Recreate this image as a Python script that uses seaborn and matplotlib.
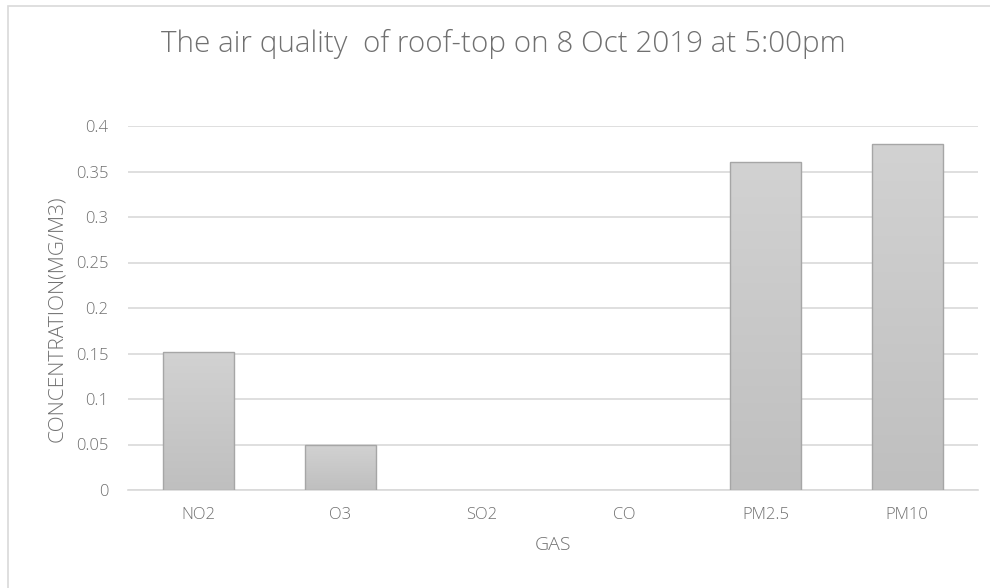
import seaborn as sns
import matplotlib
matplotlib.use('Agg')
import matplotlib.pyplot as plt
import numpy as np
import pandas as pd
from matplotlib.patches import Rectangle

gases = ['NO2', 'O3', 'SO2', 'CO', 'PM2.5', 'PM10']
concentration = [0.152, 0.05, 0, 0, 0.36, 0.38]
y_ticks = [0, 0.05, 0.1, 0.15, 0.2, 0.25, 0.3, 0.35, 0.4]
y_tick_labels = ['0', '0.05', '0.1', '0.15', '0.2', '0.25', '0.3', '0.35', '0.4']

df = pd.DataFrame({'gas': gases, 'concentration': concentration})

sns.set_theme(style='white')
plt.rcParams['font.family'] = ['Open Sans', 'DejaVu Sans']
plt.rcParams['font.weight'] = 'light'
text_color = '#707070'

W, H = 990, 588
fig = plt.figure(figsize=(W / 100, H / 100), dpi=100)
# chart area border (right and bottom edges fall outside the image)
fig.patches.append(Rectangle((8 / W, -0.02), 1.05, 1.02 - 6 / H, transform=fig.transFigure,
                             fill=False, edgecolor='#d9d9d9', linewidth=1.2))
ax = fig.add_axes([128 / W, 1 - 490 / H, 850 / W, 364 / H])

sns.barplot(data=df, x='gas', y='concentration', color='#c8c8c8', width=0.5,
            edgecolor='#a6a6a6', linewidth=1, errorbar=None, ax=ax, zorder=3)

# vertical gradient on the bars
grad = np.linspace(0, 1, 256).reshape(-1, 1)
cmap = matplotlib.colors.LinearSegmentedColormap.from_list('g', ['#bfbfbf', '#d2d2d2'])
for bar in ax.patches:
    h = bar.get_height()
    if h <= 0:
        bar.set_visible(False)
        continue
    x0 = bar.get_x()
    w = bar.get_width()
    im = ax.imshow(grad, cmap=cmap, aspect='auto', origin='lower',
                   extent=(x0, x0 + w, 0, h), zorder=3.5)
    im.set_clip_path(bar)
    bar.set_facecolor('none')
    bar.set_zorder(4)

ax.set_xlim(-0.5, len(gases) - 0.5)
ax.set_ylim(0, 0.4)
ax.set_yticks(y_ticks)
ax.set_yticklabels(y_tick_labels)
ax.yaxis.grid(True, color='#d9d9d9', linewidth=1.2)
ax.set_axisbelow(True)
for s in ['top', 'right', 'left']:
    ax.spines[s].set_visible(False)
ax.spines['bottom'].set_color('#d9d9d9')
ax.spines['bottom'].set_linewidth(1.2)
ax.tick_params(axis='both', length=0, labelsize=12, colors=text_color)
ax.tick_params(axis='x', pad=12)
ax.tick_params(axis='y', pad=14)

ax.set_xlabel('GAS', fontsize=14, color=text_color, fontweight='light')
ax.xaxis.set_label_coords(0.5, -0.126)
ax.set_ylabel('CONCENTRATION(MG/M3)', fontsize=15, color=text_color, fontweight='light')
ax.yaxis.set_label_coords(-0.0835, 0.47)
ax.yaxis.label.set_verticalalignment('center')

fig.text(0.508, 1 - 52 / H, 'The air quality  of roof-top on 8 Oct 2019 at 5:00pm',
         ha='center', va='baseline', fontsize=21.3, color=text_color,
         fontweight='light', fontstretch='normal')

fig.savefig('out.png', dpi=100)
plt.close(fig)
